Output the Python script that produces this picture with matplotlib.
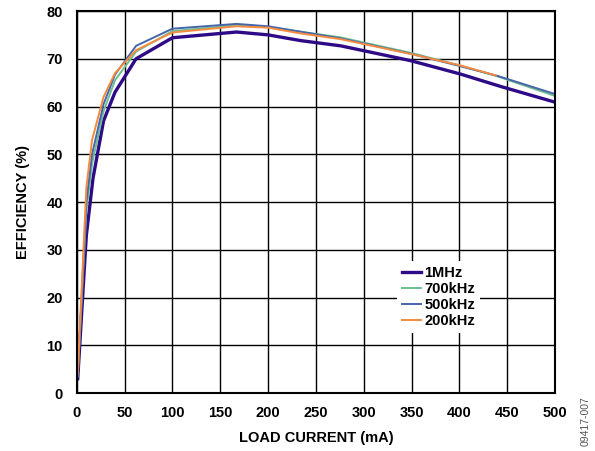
import matplotlib
matplotlib.use("Agg")
import matplotlib.pyplot as plt

plt.rcParams['font.family'] = ['Liberation Sans', 'DejaVu Sans']
plt.rcParams['font.weight'] = 'bold'

# load current (mA) and efficiency (%) per switching frequency
x_1mhz = [1, 10, 17, 28, 40, 62, 100, 167, 200, 234, 276, 349, 401, 443, 500]
eff_1mhz = [3, 33, 45, 57, 63, 70, 74.4, 75.6, 75.0, 73.8, 72.7, 69.6, 66.8, 64.2, 60.9]

x_700k = [1, 10, 16, 28, 40, 62, 100, 167, 200, 275, 350, 400, 440, 500]
eff_700k = [3.5, 38, 48, 59, 65.5, 71.5, 75.8, 77.0, 76.6, 74.5, 71.2, 68.6, 66.3, 62.2]

x_500k = [1, 10, 16, 28, 40, 62, 100, 167, 200, 275, 350, 400, 440, 500]
eff_500k = [3.5, 40, 50, 60.5, 66.7, 72.7, 76.3, 77.3, 76.8, 74.3, 71.0, 68.5, 66.4, 62.6]

x_200k = [1, 10, 16, 28, 40, 62, 100, 167, 200, 234, 276, 349, 401, 438]
eff_200k = [4, 43, 53, 62, 67, 71.8, 75.5, 76.8, 76.5, 75.3, 74.1, 71.0, 68.6, 66.5]

labels = ['1MHz', '700kHz', '500kHz', '200kHz']
colors = ['#2E0A87', '#6DBE91', '#4566AA', '#F68B3F']

fig = plt.figure(figsize=(5.95, 4.51), dpi=100)
ax = fig.add_axes([0.129, 0.1286, 0.804, 0.847])

ax.plot(x_1mhz, eff_1mhz, color=colors[0], lw=2.4, label=labels[0])
ax.plot(x_700k, eff_700k, color=colors[1], lw=1.4, label=labels[1])
ax.plot(x_500k, eff_500k, color=colors[2], lw=1.4, label=labels[2])
ax.plot(x_200k, eff_200k, color=colors[3], lw=1.4, label=labels[3])

ax.set_xlim(0, 500)
ax.set_ylim(0, 80)
ax.set_xticks(range(0, 501, 50))
ax.set_yticks(range(0, 81, 10))
ax.tick_params(length=0, labelsize=10.5)
ax.tick_params(axis='x', pad=9)
ax.tick_params(axis='y', pad=10)
for lab in ax.get_xticklabels() + ax.get_yticklabels():
    lab.set_fontweight('bold')
ax.grid(True, color='black', lw=1.0)
ax.set_axisbelow(True)
for s in ax.spines.values():
    s.set_linewidth(1.5)

ax.set_xlabel('LOAD CURRENT (mA)', fontsize=10.5, fontweight='bold', labelpad=8)
ax.set_ylabel('EFFICIENCY (%)', fontsize=10.5, fontweight='bold', labelpad=12)

leg = ax.legend(loc='upper left', bbox_to_anchor=(0.670, 0.345), fontsize=10.5,
                frameon=True, fancybox=False, handlelength=1.3, handletextpad=0.2,
                labelspacing=0.13, borderpad=0.35, borderaxespad=0)
leg.get_frame().set_edgecolor('none')
leg.get_frame().set_facecolor('white')
leg.get_frame().set_alpha(1)
for t in leg.get_texts():
    t.set_fontweight('bold')

fig.text(0.985, 0.066, '09417-007', rotation=90, fontsize=7.5, fontweight='normal',
         ha='center', va='center', color='#555555')

fig.savefig('out.png', dpi=100)
